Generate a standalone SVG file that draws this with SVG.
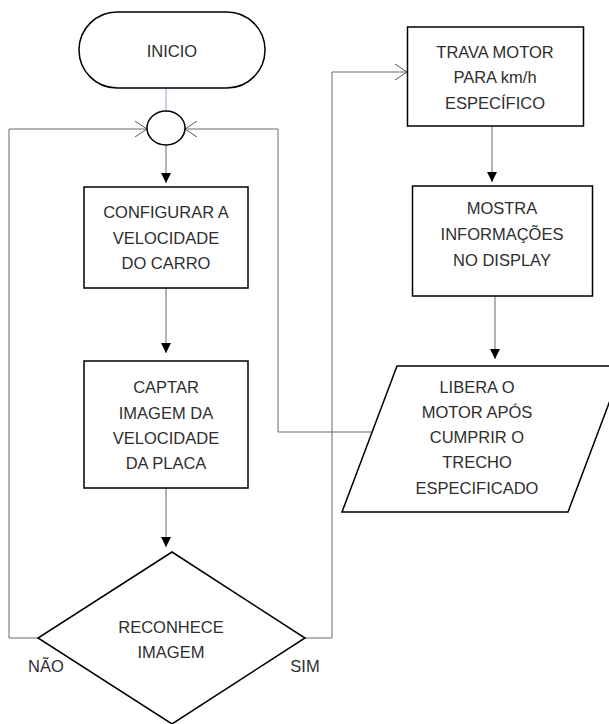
<svg xmlns="http://www.w3.org/2000/svg" width="609" height="724" viewBox="0 0 609 724">
<style>
.shape{fill:#fff;stroke:#000;stroke-width:1.5}
.conn{fill:none;stroke:#6a6a6a;stroke-width:1}
.lbl{font-family:"Liberation Sans",Arial,sans-serif;font-size:16.5px;fill:#2e2e2e;text-anchor:middle}
</style>
<defs>
<marker id="tri" viewBox="0 0 10 10" refX="10" refY="5" markerWidth="10" markerHeight="10" markerUnits="userSpaceOnUse" orient="auto">
<path d="M0,0 L10,5 L0,10 Z" fill="#000"/>
</marker>
<marker id="open" viewBox="0 0 12 16" refX="12" refY="8" markerWidth="12" markerHeight="16" markerUnits="userSpaceOnUse" orient="auto">
<path d="M0,0 L12,8 L0,16" fill="none" stroke="#555" stroke-width="1"/>
</marker>
</defs>
<g id="connectors">
<line x1="166" y1="88" x2="166" y2="111" stroke="#8eaadb" stroke-width="1"/>
<line class="conn" x1="166" y1="145" x2="166" y2="183" marker-end="url(#tri)"/>
<line class="conn" x1="166" y1="288" x2="166" y2="353" marker-end="url(#tri)"/>
<line class="conn" x1="166" y1="488" x2="166" y2="547" marker-end="url(#tri)"/>
<polyline class="conn" points="38,638 9,638 9,129 147,129" marker-end="url(#open)"/>
<polyline class="conn" points="372,432 278,432 278,129 185,129" marker-end="url(#open)"/>
<polyline class="conn" points="305,638 332,638 332,72 407,72" marker-end="url(#open)"/>
<line class="conn" x1="492" y1="126" x2="492" y2="182" marker-end="url(#tri)"/>
<line class="conn" x1="495" y1="296" x2="495" y2="359" marker-end="url(#tri)"/>
</g>
<g id="inicio">
<rect class="shape" x="79" y="12" width="186" height="76" rx="38" ry="38"/>
<text class="lbl" x="172" y="57">INICIO</text>
</g>
<g id="juncao">
<ellipse class="shape" cx="166" cy="128" rx="19" ry="17"/>
</g>
<g id="configurar">
<rect class="shape" x="84" y="187" width="164" height="101"/>
<text class="lbl" x="166" y="218">CONFIGURAR A</text>
<text class="lbl" x="166" y="244">VELOCIDADE</text>
<text class="lbl" x="166" y="269">DO CARRO</text>
</g>
<g id="captar">
<rect class="shape" x="84" y="361" width="164" height="127"/>
<text class="lbl" x="166" y="393">CAPTAR</text>
<text class="lbl" x="166" y="419">IMAGEM DA</text>
<text class="lbl" x="166" y="444">VELOCIDADE</text>
<text class="lbl" x="166" y="469">DA PLACA</text>
</g>
<g id="reconhece">
<polygon class="shape" points="172,552 305,638 172,724 38,638"/>
<text class="lbl" x="171" y="633">RECONHECE</text>
<text class="lbl" x="171" y="658">IMAGEM</text>
<text class="lbl" x="46" y="672">NÃO</text>
<text class="lbl" x="305" y="672">SIM</text>
</g>
<g id="trava">
<rect class="shape" x="407.5" y="27" width="176" height="99"/>
<text class="lbl" x="495" y="58">TRAVA MOTOR</text>
<text class="lbl" x="495" y="83">PARA km/h</text>
<text class="lbl" x="495" y="109">ESPECÍFICO</text>
</g>
<g id="mostra">
<rect class="shape" x="412.5" y="186" width="180" height="110"/>
<text class="lbl" x="502" y="214">MOSTRA</text>
<text class="lbl" x="502" y="240">INFORMAÇÕES</text>
<text class="lbl" x="502" y="266">NO DISPLAY</text>
</g>
<g id="libera">
<polygon class="shape" points="397,366 623,366 568,512 342,512"/>
<text class="lbl" x="477" y="393">LIBERA O</text>
<text class="lbl" x="477" y="418">MOTOR APÓS</text>
<text class="lbl" x="477" y="443">CUMPRIR O</text>
<text class="lbl" x="477" y="468">TRECHO</text>
<text class="lbl" x="477" y="494">ESPECIFICADO</text>
</g>
</svg>
